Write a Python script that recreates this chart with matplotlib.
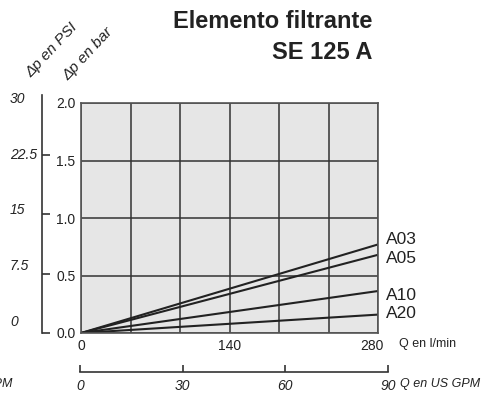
import numpy as np
import matplotlib.pyplot as plt
from matplotlib.transforms import ScaledTranslation

plt.rcParams['font.family'] = ['Liberation Sans', 'DejaVu Sans']

# data
flow_lmin = [0, 280]
series = ["A03", "A05", "A10", "A20"]
dp_bar = {
    "A03": [0, 0.77],
    "A05": [0, 0.68],
    "A10": [0, 0.365],
    "A20": [0, 0.16],
}
label_shift = {"A03": 5, "A05": -4, "A10": -4, "A20": 1}  # px, text vs line end

x_ticks = np.linspace(0, 280, 7)
x_labels = ["0", "", "", "140", "", "", "280"]
y_ticks = [0, 0.5, 1.0, 1.5, 2.0]
y_labels = ["0.0", "0.5", "1.0", "1.5", "2.0"]
psi_ticks = [0, 7.5, 15, 22.5]
psi_labels = ["0", "7.5", "15", "22.5", "30"]
gpm_ticks = [0, 30, 60, 90]

W, H = 495, 394
dark = "#222222"
grid_c = "#333333"

fig = plt.figure(figsize=(W / 100, H / 100), dpi=100)

# main chart
ax = fig.add_axes([81 / W, 61 / H, 297 / W, 230 / H])
ax.set_facecolor("#e6e6e6")
ax.set_xlim(0, 280)
ax.set_ylim(0, 2)
ax.set_xticks(x_ticks)
ax.set_xticklabels(x_labels)
ax.set_yticks(y_ticks)
ax.set_yticklabels(y_labels)
ax.tick_params(length=0, labelsize=10, labelcolor=dark)
ax.tick_params(axis="x", pad=4)
ax.tick_params(axis="y", pad=4)
ax.grid(True, color=grid_c, lw=1.1)
ax.set_axisbelow(True)
for s in ax.spines.values():
    s.set_color("#555555")
    s.set_linewidth(1.2)
# last flow label sits a little left of its gridline
last = ax.get_xticklabels()[-1]
last.set_transform(last.get_transform() + ScaledTranslation(-6 / 100, 0, fig.dpi_scale_trans))

for name in series:
    ax.plot(flow_lmin, dp_bar[name], color=dark, lw=1.5, solid_capstyle="butt")
    ax.annotate(name, (flow_lmin[-1], dp_bar[name][-1]),
                xytext=(6, label_shift[name] * 0.72), textcoords="offset points",
                ha="left", va="center", fontsize=12.5, color=dark,
                annotation_clip=False)

ax.text(1.07, -0.05, "Q en l/min", transform=ax.transAxes, fontsize=9,
        color=dark, ha="left", va="center")

# PSI scale on the left
ax_psi = fig.add_axes([42 / W, 61 / H, 10 / W, 238 / H])
ax_psi.set_facecolor("none")
ax_psi.set_ylim(0, 30)
for k in ["top", "right", "bottom"]:
    ax_psi.spines[k].set_visible(False)
ax_psi.spines["left"].set_color(grid_c)
ax_psi.spines["left"].set_linewidth(1.2)
ax_psi.set_xticks([])
ax_psi.set_yticks(psi_ticks)
ax_psi.set_yticklabels([])
ax_psi.tick_params(axis="y", direction="in", length=6, width=1.2, color=grid_c)
for i, lab in enumerate(psi_labels):
    ypx = 322 - i * (223 / (len(psi_labels) - 1))
    fig.text(10 / W, (H - ypx) / H, lab, fontsize=10, style="italic",
             color=dark, ha="left", va="center")

# US GPM scale below
ax_gpm = fig.add_axes([80 / W, 22 / H, 308 / W, 20 / H])
ax_gpm.set_facecolor("none")
ax_gpm.set_xlim(0, 90)
for k in ["top", "right", "left"]:
    ax_gpm.spines[k].set_visible(False)
ax_gpm.spines["bottom"].set_color(grid_c)
ax_gpm.spines["bottom"].set_linewidth(1.2)
ax_gpm.set_yticks([])
ax_gpm.set_xticks(gpm_ticks)
ax_gpm.set_xticklabels([str(v) for v in gpm_ticks], style="italic")
ax_gpm.tick_params(axis="x", direction="in", length=5, width=1.2, color=grid_c,
                   labelsize=10, labelcolor=dark, pad=5)
fig.text(400 / W, (H - 384) / H, "Q en US GPM", fontsize=9, style="italic",
         color=dark, ha="left", va="center")
fig.text(12 / W, (H - 384) / H, "US GPM", fontsize=9, style="italic",
         color=dark, ha="right", va="center")

# axis captions, rotated
fig.text(52 / W, (H - 50) / H, "Δp en PSI", rotation=47, fontsize=11,
         style="italic", color=dark, ha="center", va="center")
fig.text(88 / W, (H - 54) / H, "Δp en bar", rotation=47, fontsize=11,
         style="italic", color=dark, ha="center", va="center")

# title
fig.text(372 / W, (H - 28) / H, "Elemento filtrante", fontsize=17,
         fontweight="bold", color=dark, ha="right", va="baseline")
fig.text(372 / W, (H - 59) / H, "SE 125 A", fontsize=17,
         fontweight="bold", color=dark, ha="right", va="baseline")

fig.savefig("out.png", dpi=100)
